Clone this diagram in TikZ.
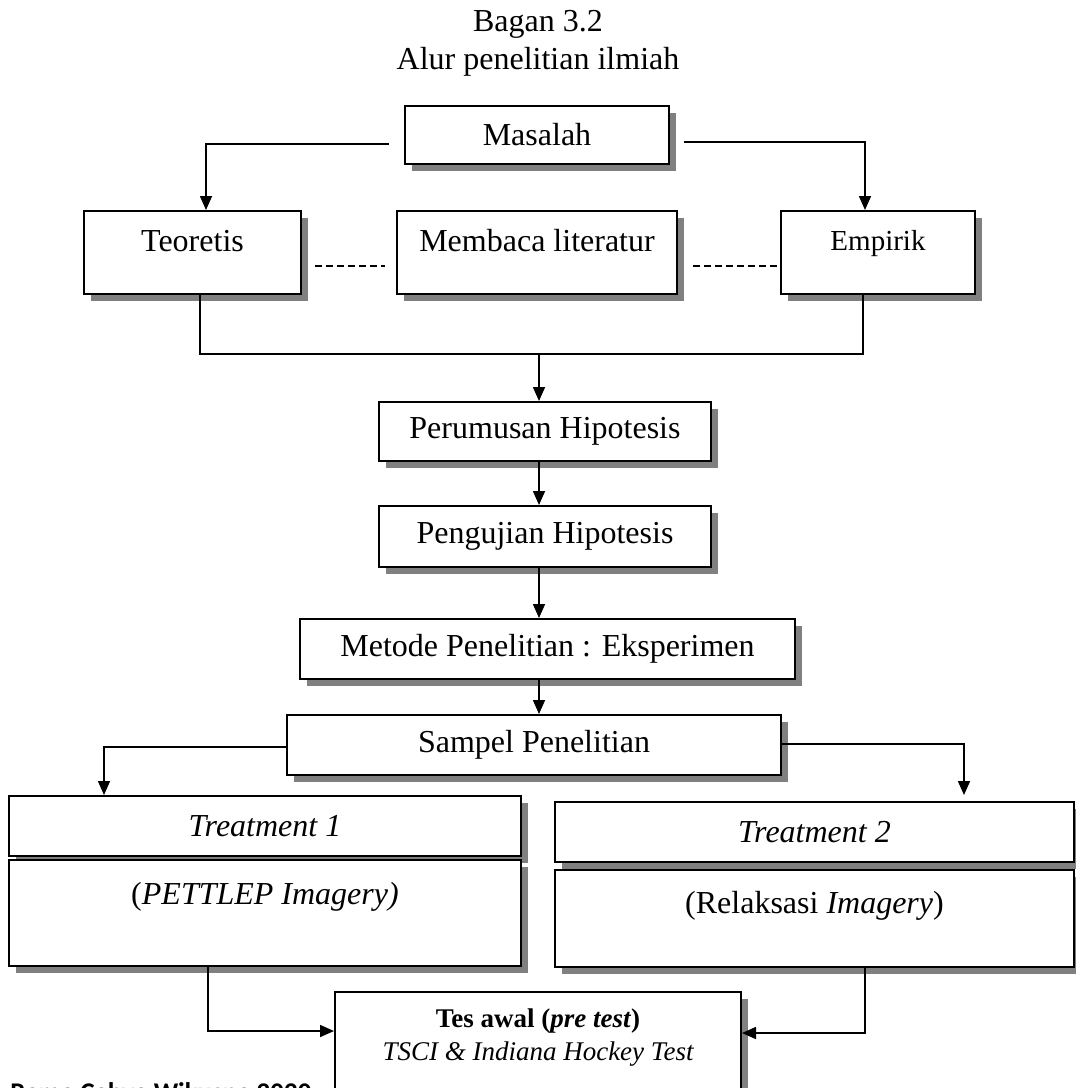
\documentclass[tikz,border=0pt]{standalone}
\usepackage{fontspec}
\setmainfont{Liberation Serif}
\newfontfamily\notefont{Carlito}
\usetikzlibrary{arrows.meta,positioning,calc,shadows}

\begin{document}
\begin{tikzpicture}[x=0.5pt,y=-0.5pt,
  box/.style={draw,line width=1pt,fill=white,inner sep=0pt,font=\fontsize{16}{19}\selectfont,
    general shadow={fill=black!50,shadow xshift=3.5pt,shadow yshift=-3.5pt}},
  conn/.style={line width=0.8pt},
  arr/.style={conn,-{Triangle[length=7pt,width=6pt]}},
  ttl/.style={font=\fontsize{16}{19}\selectfont}]
  \useasboundingbox (0,0) rectangle (1076,1088);
  \node[ttl] (bagan) at (538,24) {Bagan 3.2};
  \node[ttl] (alur) at (538,62) {Alur penelitian ilmiah};
  \node[box,minimum width=132pt,minimum height=29pt] (masalah) at (537,135) {Masalah};
  \node[box,minimum width=108.5pt,minimum height=41.5pt,text height=11pt,text depth=12pt] (teoretis) at (192.5,252.5) {Teoretis};
  \node[box,minimum width=140pt,minimum height=41.5pt,text height=11pt,text depth=12pt] (literatur) at (537,252.5) {Membaca literatur};
  \node[box,minimum width=97pt,minimum height=41.5pt,text height=10pt,text depth=12pt,font=\fontsize{14.5}{17}\selectfont] (empirik) at (878,252.5) {Empirik};
  \node[box,minimum width=166pt,minimum height=29.5pt] (perumusan) at (545,431.5) {Perumusan Hipotesis};
  \node[box,minimum width=166pt,minimum height=30.5pt] (pengujian) at (545,536.5) {Pengujian Hipotesis};
  \node[box,minimum width=247.5pt,minimum height=30pt] (metode) at (547.5,649) {Metode Penelitian : Eksperimen};
  \node[box,minimum width=247pt,minimum height=30pt] (sampel) at (534,745) {Sampel Penelitian};
  \node[box,minimum width=256pt,minimum height=30pt] (treatA) at (265,826) {\textit{Treatment 1}};
  \node[box,minimum width=256pt,minimum height=53pt,text height=11pt,text depth=19.5pt] (pettlep) at (265,913) {(\textit{PETTLEP Imagery)}};
  \node[box,minimum width=259.5pt,minimum height=30pt] (treatB) at (814.5,832) {\textit{Treatment 2}};
  \node[box,minimum width=259.5pt,minimum height=48.5pt,text height=11pt,text depth=16pt] (relaksasi) at (814.5,918.5) {(Relaksasi \textit{Imagery})};
  \node[box,minimum width=203pt,minimum height=59pt] (tes) at (538,1051) {};
  \node[font=\fontsize{13.5}{16}\selectfont\bfseries] (tesA) at (538,1021) {Tes awal (\textit{pre test})};
  \node[font=\fontsize{13.5}{16}\selectfont\itshape] (tesB) at (538,1054) {TSCI \& Indiana Hockey Test};
  \node[anchor=north west,inner sep=0pt,font=\notefont\bfseries\fontsize{13.5}{16}\selectfont] (sumber) at (10,1082) {Rama Cahya Wikusna 2020};
  \coordinate (axis) at (539,354);
  \draw[arr] ([shift={(-15,9)}]masalah.west) -| ([shift={(13.5,0)}]teoretis.north);
  \draw[arr] ([shift={(14,7)}]masalah.east) -| ([shift={(-13,0)}]empirik.north);
  \draw[conn,dash pattern=on 3.5pt off 2pt] ([shift={(13,13.5)}]teoretis.east) -- ([shift={(-11,13.5)}]literatur.west);
  \draw[conn,dash pattern=on 3.5pt off 2pt] ([shift={(15,13.5)}]literatur.east) -- ([shift={(0,13.5)}]empirik.west);
  \draw[conn] ([shift={(7.5,0)}]teoretis.south) |- (axis) -| ([shift={(-15,0)}]empirik.south);
  \draw[arr] (axis) -- (perumusan.north -| axis);
  \foreach \a/\b in {perumusan/pengujian,pengujian/metode,metode/sampel}{
     \draw[arr] (\a.south -| axis) -- (\b.north -| axis);}
  \draw[arr] ([shift={(0,2)}]sampel.west) -| ([shift={(-161,0)}]treatA.north);
  \draw[arr] ([shift={(0,-1)}]sampel.east) -| ([shift={(149.5,-6)}]treatB.north);
  \draw[arr] ([shift={(-57,0)}]pettlep.south) |- ([shift={(0,-20)}]tes.west);
  \draw[arr] ([shift={(50.5,0)}]relaksasi.south) |- ([shift={(0,-18)}]tes.east);
\end{tikzpicture}
\end{document}
